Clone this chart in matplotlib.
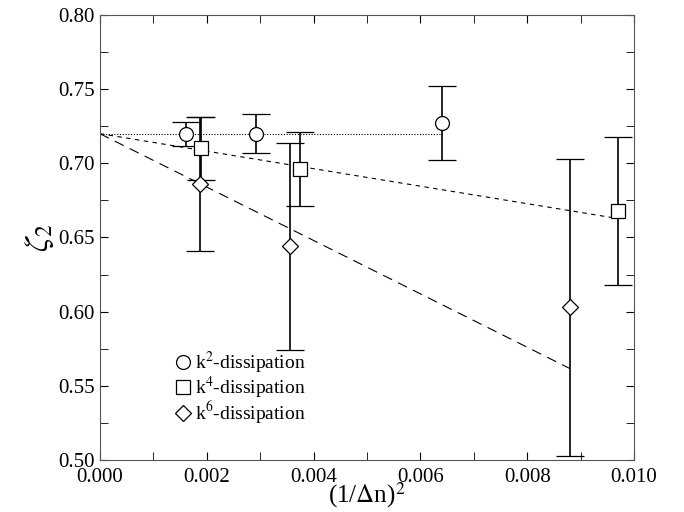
import numpy as np
import matplotlib
matplotlib.use('Agg')
from matplotlib import pyplot as plt
from matplotlib.ticker import MultipleLocator
from matplotlib.lines import Line2D

plt.rcParams['font.family'] = ['Liberation Serif', 'DejaVu Serif']
plt.rcParams['mathtext.fontset'] = 'stix'

# k^2 dissipation
x_k2 = [0.00162, 0.00292, 0.00640]
y_k2 = [0.720, 0.720, 0.727]
e_k2 = [0.008, 0.013, 0.025]
# k^4 dissipation
x_k4 = [0.00190, 0.00375, 0.00970]
y_k4 = [0.710, 0.696, 0.668]
e_k4 = [0.021, 0.025, 0.050]
# k^6 dissipation
x_k6 = [0.00188, 0.00355, 0.00880]
y_k6 = [0.686, 0.644, 0.603]
e_k6 = [0.045, 0.070, 0.100]

# fit lines (intercept, slope, x end)
fit_k2 = (0.720, 0.0, 0.0064)
fit_k4 = (0.720, -5.9, 0.0097)
fit_k6 = (0.720, -18.0, 0.0088)

labels = ['k$^2$-dissipation', 'k$^4$-dissipation', 'k$^6$-dissipation']

fig = plt.figure(figsize=(6.84, 5.12), dpi=100)
ax = fig.add_axes([0.146, 0.1016, 0.781, 0.8691])

# fits
for (b, m, xe), ls in [(fit_k2, (0, (1, 1.5))), (fit_k4, (0, (4, 4))), (fit_k6, (0, (9, 6)))]:
    xs = np.array([0.0, xe])
    ax.plot(xs, b + m * xs, color='black', lw=0.8, ls=ls)

kw = dict(color='black', mfc='white', mec='black', elinewidth=1.2,
          capsize=10, capthick=1.2, ls='none', mew=0.9)
ax.errorbar(x_k2, y_k2, yerr=e_k2, marker='o', markersize=10, **kw)
ax.errorbar(x_k4, y_k4, yerr=e_k4, marker='s', markersize=10, **kw)
ax.errorbar(x_k6, y_k6, yerr=e_k6, marker='D', markersize=8, **kw)

ax.set_xlim(0, 0.010)
ax.set_ylim(0.50, 0.80)
ax.xaxis.set_major_locator(MultipleLocator(0.002))
ax.xaxis.set_minor_locator(MultipleLocator(0.001))
ax.yaxis.set_major_locator(MultipleLocator(0.05))
ax.yaxis.set_minor_locator(MultipleLocator(0.025))
ax.xaxis.set_major_formatter(plt.FormatStrFormatter('%.3f'))
ax.yaxis.set_major_formatter(plt.FormatStrFormatter('%.2f'))
ax.tick_params(which='both', direction='in', top=True, right=True, labelsize=15)
ax.tick_params(which='both', length=6)
ax.tick_params(axis='x', pad=6)
for s in ax.spines.values():
    s.set_color('#555555')

ax.set_xlabel(r'(1/$\Delta$n)$^2$', fontsize=18, labelpad=-5)
ax.set_ylabel(r'$\zeta_2$', fontsize=24, labelpad=2)

handles = [Line2D([], [], ls='none', marker=mk, ms=ms, mfc='white', mec='black', mew=0.9)
           for mk, ms in [('o', 10), ('s', 10), ('D', 8)]]
ax.legend(handles, labels, loc='upper left', bbox_to_anchor=(0.12, 0.27), frameon=False,
          fontsize=14, handletextpad=0.1, labelspacing=-0.05,
          handlelength=1.0, borderpad=0)

fig.savefig('out.png', dpi=100)
